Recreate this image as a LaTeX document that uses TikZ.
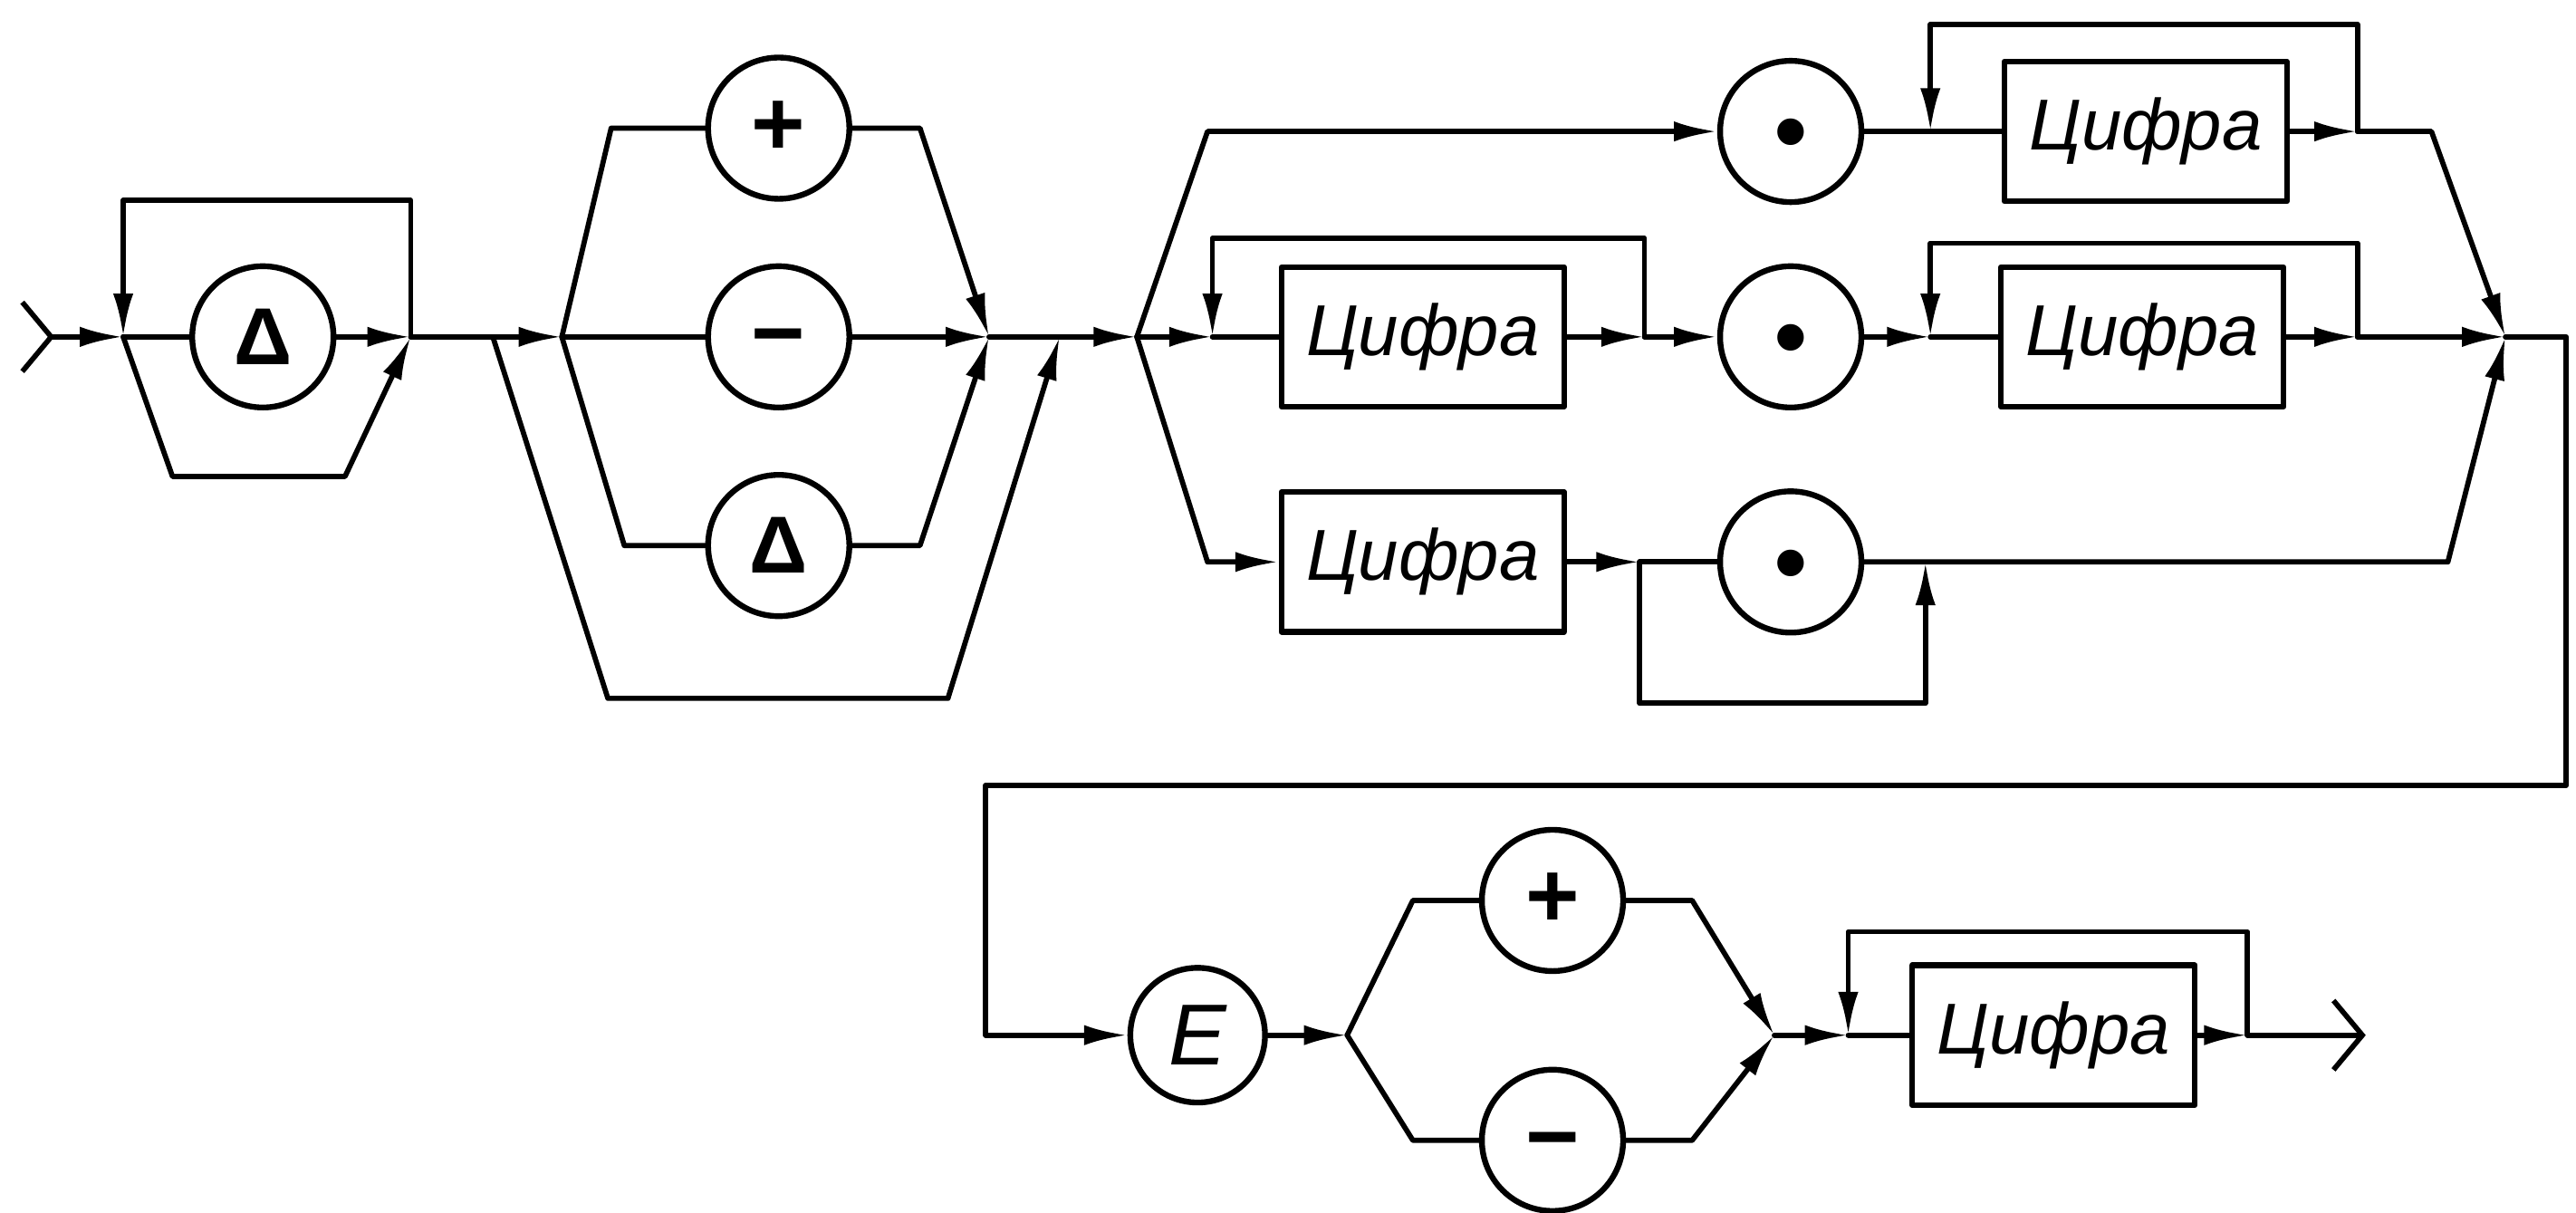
\documentclass[tikz,border=0pt]{standalone}
\usepackage{fontspec}
\setmainfont{Liberation Sans}
\usetikzlibrary{arrows.meta}
\newcommand{\midsym}[2]{\raisebox{-#1}[0pt][0pt]{#2}}

\begin{document}
\begin{tikzpicture}[x=0.02cm,y=-0.02cm,>={Latex[length=15pt,width=7pt]},line cap=round,line join=round,line width=1.8pt]
  \tikzset{
    term/.style={circle,draw,line width=2pt,inner sep=0pt,minimum size=1.72cm,font=\fontsize{32}{36}\selectfont\bfseries},
    nterm/.style={rectangle,draw,line width=2pt,inner sep=0pt,minimum width=3.44cm,minimum height=1.7cm,font=\itshape\fontsize{25}{28}\selectfont},
    intip/.tip={Straight Barb[reversed,length=10pt,width=24pt]},
    outtip/.tip={Straight Barb[length=10pt,width=24pt]}
  }

  \path[use as bounding box] (0,0) rectangle (1568,738);

  \coordinate (in) at (12,205);
  \coordinate (j0) at (75,205);
  \coordinate (j1) at (250,205);
  \coordinate (jb) at (300,205);
  \coordinate (j2) at (342,205);
  \coordinate (j3) at (602,205);
  \coordinate (j4) at (645,205);
  \coordinate (j5) at (692,205);
  \coordinate (j6) at (1525,205);

  \node[term,font=\fontsize{28}{32}\selectfont\bfseries] (d1) at (160,205) {Δ};

  \node[term] (p1) at (474,78) {+};
  \node[term] (m1) at (474,205) {\midsym{0.3em}{−}};
  \node[term,font=\fontsize{28}{32}\selectfont\bfseries] (t1) at (474,332) {Δ};

  \node[term] (o1) at (1090,80) {\midsym{0.34em}{•}};
  \node[nterm] (c1) at (1306,80) {Цифра};
  \coordinate (l1) at (1175,80);
  \coordinate (r1) at (1435,80);

  \coordinate (l2) at (738,205);
  \node[nterm] (c2) at (866,205) {Цифра};
  \coordinate (r2) at (1001,205);
  \node[term] (o2) at (1090,205) {\midsym{0.34em}{•}};
  \coordinate (l3) at (1175,205);
  \node[nterm] (c3) at (1304,205) {Цифра};
  \coordinate (r3) at (1435,205);

  \node[nterm] (c4) at (866,342) {Цифра};
  \coordinate (l4) at (998,342);
  \node[term] (o3) at (1090,342) {\midsym{0.34em}{•}};
  \coordinate (r4) at (1172,342);

  \node[term,minimum size=1.64cm,font=\fontsize{30}{34}\selectfont\itshape] (e) at (729,630) {E};
  \coordinate (j7) at (820,630);
  \node[term] (p2) at (945,548) {+};
  \node[term] (m2) at (945,694) {\midsym{0.3em}{−}};
  \coordinate (j8) at (1080,630);
  \coordinate (l5) at (1125,630);
  \node[nterm] (c5) at (1250,630) {Цифра};
  \coordinate (r5) at (1368,630);
  \coordinate (out) at (1440,630);

  \draw[intip->] (in) -- (j0);
  \draw (j0) -- (d1.west);
  \draw[->] (d1.east) -- (j1);
  \draw[->] (j0) -- (105,290) -- (210,290) -- (j1);
  \draw (j1) -- (jb);
  \draw[->] (jb) -- (j2);

  \draw (j2) -- (372,78) -- (p1.west);
  \draw[->] (p1.east) -- (560,78) -- (j3);
  \draw (j2) -- (m1.west);
  \draw[->] (m1.east) -- (j3);
  \draw (j2) -- (380,332) -- (t1.west);
  \draw[->] (t1.east) -- (560,332) -- (j3);
  \draw[->] (jb) -- (370,425) -- (577,425) -- (j4);
  \draw (j3) -- (j4);
  \draw[->] (j4) -- (j5);

  \draw[->] (j5) -- (735,80) -- (o1.west);
  \draw (o1.east) -- (l1) -- (c1.west);
  \draw[->] (c1.east) -- (r1);
  \draw[->] (r1) -- (1480,80) -- (j6);

  \draw[->] (j5) -- (l2);
  \draw (l2) -- (c2.west);
  \draw[->] (c2.east) -- (r2);
  \draw[->] (r2) -- (o2.west);
  \draw[->] (o2.east) -- (l3);
  \draw (l3) -- (c3.west);
  \draw[->] (c3.east) -- (r3);
  \draw[->] (r3) -- (j6);

  \draw[->] (j5) -- (735,342) -- (c4.west);
  \draw[->] (c4.east) -- (l4);
  \draw (l4) -- (o3.west);
  \draw[->] (l4) -- (998,428) -- (1172,428) -- (r4);
  \draw[->] (o3.east) -- (r4) -- (1490,342) -- (j6);

  \foreach \l/\r/\t in {j0/j1/122,l1/r1/15,l2/r2/145,l3/r3/148,l5/r5/567}
    \draw[->] (\r) -- (\r |- 0,\t) -- (\l |- 0,\t) -- (\l);

  \draw[->] (j6) -- (1562,205) -- (1562,478) -- (600,478) -- (600,630) -- (e.west);
  \draw[->] (e.east) -- (j7);
  \draw (j7) -- (860,548) -- (p2.west);
  \draw[->] (p2.east) -- (1030,548) -- (j8);
  \draw (j7) -- (860,694) -- (m2.west);
  \draw[->] (m2.east) -- (1030,694) -- (j8);
  \draw[->] (j8) -- (l5);
  \draw (l5) -- (c5.west);
  \draw[->] (c5.east) -- (r5);
  \draw[-outtip] (r5) -- (out);
\end{tikzpicture}
\end{document}
